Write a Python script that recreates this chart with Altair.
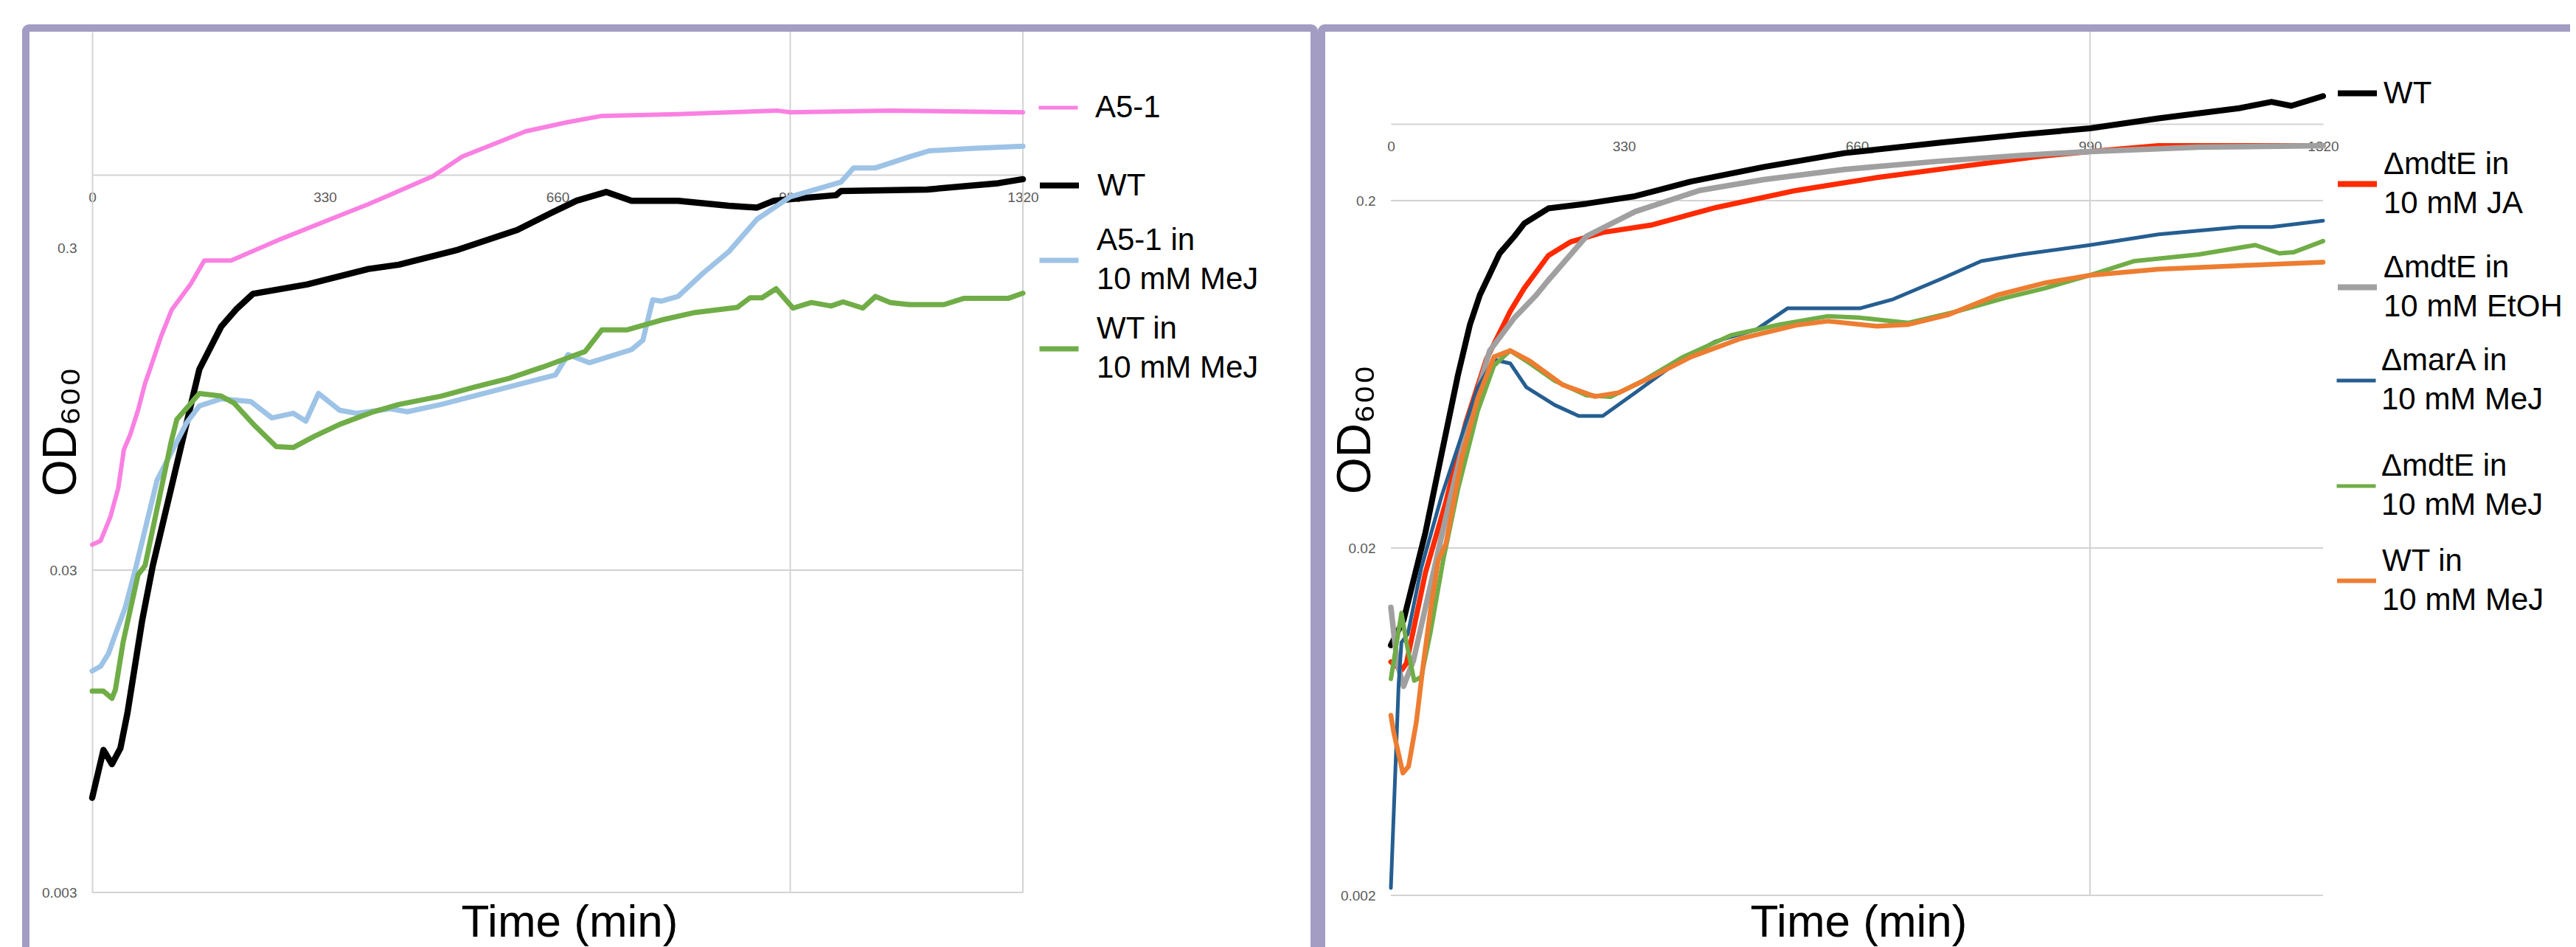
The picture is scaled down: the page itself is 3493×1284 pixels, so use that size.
import altair as alt
import pandas as pd

FONT = "Liberation Sans, Arial, Helvetica, DejaVu Sans, sans-serif"
FRAME = "#A39DC4"
GRID = "#D3D3D3"
TICK = "#5A5A5A"

# ---------------- left panel data ----------------
L_names = ["A5-1", "WT", "A5-1 in|10 mM MeJ", "WT in|10 mM MeJ"]
L_colors = ["#FA80E2", "#000000", "#9DC3E6", "#70AD47"]
L_widths = [6, 8.5, 7, 7]
L_sym_widths = [5, 8, 7, 7]

L_A51_t = [0, 12, 26, 37, 45, 54, 65, 75, 82, 98, 113, 140, 159, 197, 267, 351, 392, 483, 525, 615, 675, 723, 831, 971, 990, 1131, 1320]
L_A51_v = [0.036, 0.037, 0.044, 0.054, 0.071, 0.079, 0.094, 0.114, 0.126, 0.16, 0.193, 0.232, 0.274, 0.274, 0.319, 0.378, 0.41, 0.50, 0.576, 0.69, 0.737, 0.77, 0.78, 0.80, 0.79, 0.80, 0.79]

L_WT_t = [0, 16, 28, 40, 50, 71, 86, 152, 183, 204, 228, 305, 392, 435, 519, 603, 651, 687, 729, 765, 831, 903, 943, 967, 990, 1055, 1062, 1184, 1285, 1320]
L_WT_v = [0.0059, 0.0083, 0.0075, 0.0084, 0.0108, 0.021, 0.031, 0.126, 0.171, 0.193, 0.216, 0.231, 0.258, 0.266, 0.296, 0.341, 0.385, 0.42, 0.447, 0.42, 0.42, 0.405, 0.40, 0.42, 0.425, 0.437, 0.45, 0.455, 0.476, 0.49]

L_A51MeJ_t = [0, 12, 23, 33, 47, 61, 92, 120, 134, 152, 183, 225, 255, 285, 303, 321, 351, 375, 423, 447, 495, 591, 657, 675, 705, 765, 781, 795, 807, 831, 867, 903, 943, 990, 1062, 1080, 1111, 1159, 1187, 1247, 1320]
L_A51MeJ_v = [0.0146, 0.0151, 0.0165, 0.019, 0.023, 0.030, 0.057, 0.075, 0.086, 0.097, 0.102, 0.100, 0.089, 0.092, 0.087, 0.106, 0.094, 0.092, 0.095, 0.093, 0.098, 0.111, 0.121, 0.140, 0.132, 0.145, 0.155, 0.207, 0.205, 0.212, 0.251, 0.292, 0.368, 0.432, 0.48, 0.531, 0.531, 0.575, 0.60, 0.61, 0.62]

L_WTMeJ_t = [0, 16, 28, 33, 44, 65, 75, 112, 120, 152, 183, 201, 231, 261, 285, 315, 351, 399, 435, 495, 543, 591, 639, 699, 723, 759, 807, 855, 915, 933, 950, 970, 994, 1020, 1048, 1065, 1093, 1111, 1132, 1159, 1208, 1236, 1299, 1320]
L_WTMeJ_v = [0.01264, 0.01264, 0.0120, 0.0128, 0.018, 0.029, 0.031, 0.075, 0.088, 0.106, 0.104, 0.099, 0.084, 0.0725, 0.072, 0.078, 0.085, 0.093, 0.098, 0.104, 0.111, 0.118, 0.128, 0.143, 0.167, 0.167, 0.179, 0.189, 0.196, 0.21, 0.21, 0.224, 0.195, 0.203, 0.198, 0.204, 0.195, 0.212, 0.203, 0.2, 0.2, 0.209, 0.209, 0.217]

L_ticks = [0.003, 0.03, 0.3]
L_hgrid = [0.03, 0.003]
L_vgrid = [990, 1320]
L_ydomain = [0.003, 1.405]

# ---------------- right panel data ----------------
R_names = ["WT", "\u0394mdtE in|10 mM JA", "\u0394mdtE in|10 mM EtOH", "\u0394marA in|10 mM MeJ", "\u0394mdtE in|10 mM MeJ", "WT in|10 mM MeJ"]
R_colors = ["#000000", "#FF2A00", "#A0A0A0", "#255E91", "#70AD47", "#ED7D31"]
R_widths = [8, 7, 7.5, 5, 6, 6.5]
R_sym_widths = [8, 8, 8, 5, 5, 6]

R_WT_t = [0, 18, 39, 49, 72, 95, 112, 126, 154, 175, 189, 223, 277, 346, 425, 528, 642, 779, 893, 990, 1087, 1201, 1247, 1275, 1320]
R_WT_v = [0.0105, 0.0124, 0.0184, 0.0222, 0.0375, 0.063, 0.088, 0.107, 0.141, 0.158, 0.172, 0.19, 0.196, 0.206, 0.227, 0.25, 0.274, 0.294, 0.31, 0.323, 0.345, 0.369, 0.385, 0.375, 0.40]

R_JA_t = [0, 15, 22, 49, 78, 106, 135, 169, 189, 223, 254, 300, 368, 460, 574, 688, 802, 916, 990, 1087, 1201, 1320]
R_JA_v = [0.0094, 0.0089, 0.0093, 0.017, 0.0272, 0.0458, 0.0697, 0.096, 0.112, 0.139, 0.152, 0.162, 0.170, 0.191, 0.214, 0.233, 0.25, 0.268, 0.277, 0.288, 0.288, 0.288]

R_EtOH_t = [0, 9, 18, 32, 64, 83, 112, 140, 175, 206, 223, 277, 346, 437, 528, 642, 779, 893, 990, 1144, 1320]
R_EtOH_v = [0.0135, 0.0093, 0.0080, 0.0095, 0.0184, 0.0272, 0.0476, 0.074, 0.092, 0.107, 0.118, 0.158, 0.186, 0.214, 0.23, 0.246, 0.26, 0.27, 0.277, 0.285, 0.288]

R_marA_t = [0, 11, 15, 24, 43, 72, 100, 123, 146, 169, 192, 232, 266, 300, 346, 403, 460, 517, 562, 597, 665, 711, 779, 836, 893, 990, 1087, 1201, 1247, 1320]
R_marA_v = [0.0021, 0.0081, 0.0107, 0.0113, 0.0175, 0.0283, 0.042, 0.058, 0.0697, 0.068, 0.058, 0.0516, 0.048, 0.048, 0.056, 0.068, 0.0787, 0.085, 0.098, 0.098, 0.098, 0.104, 0.119, 0.134, 0.14, 0.149, 0.16, 0.168, 0.168, 0.175]

R_mdtEMeJ_t = [0, 15, 22, 33, 43, 56, 74, 95, 123, 146, 169, 197, 232, 277, 311, 357, 414, 482, 551, 619, 665, 733, 802, 870, 927, 990, 1053, 1144, 1224, 1258, 1278, 1320]
R_mdtEMeJ_v = [0.0084, 0.0130, 0.0107, 0.0083, 0.0085, 0.0114, 0.0184, 0.0295, 0.0496, 0.067, 0.074, 0.068, 0.0606, 0.055, 0.0545, 0.0606, 0.071, 0.082, 0.088, 0.093, 0.092, 0.089, 0.096, 0.105, 0.112, 0.122, 0.134, 0.14, 0.149, 0.141, 0.142, 0.153]

R_WTMeJ_t = [0, 4, 17, 25, 36, 46, 56, 67, 78, 100, 123, 146, 169, 197, 243, 289, 323, 368, 425, 494, 574, 619, 688, 733, 790, 859, 927, 990, 1087, 1201, 1320]
R_WTMeJ_v = [0.0066, 0.0059, 0.0045, 0.0047, 0.0063, 0.0093, 0.0132, 0.0184, 0.0206, 0.036, 0.054, 0.071, 0.074, 0.069, 0.059, 0.0546, 0.056, 0.062, 0.071, 0.080, 0.0876, 0.090, 0.087, 0.088, 0.094, 0.107, 0.116, 0.122, 0.127, 0.13, 0.133]

R_ticks = [0.002, 0.02, 0.2]
R_hgrid = [0.2, 0.02, 0.002]
R_vgrid = [990]
R_ydomain = [0.002, 0.6128]

X_ticks = [0, 330, 660, 990, 1320]
X_max = 1320

# layout (pixels inside each framed view)
H = 1262
LEG_ANCHOR = 31  # distance from legendY to the entry's symbol centre

L_entry_y = [110, 214, 316, 436]
R_entry_y = [89, 212, 352, 480, 623, 751]


def panel(names, colors, widths, sym_widths, ts, vs, W, xr, ydom, yr, yticks, hgrid, vgrid,
          show_ydomain, xaxis_y, ytitle_x, ytitle_y, xtitle_x, legend_x, label_off, entry_y):
    xs = alt.Scale(domain=[0, X_max], range=xr, nice=False, zero=False)
    ys = alt.Scale(type="log", domain=ydom, range=yr, nice=False)
    xoff = -(H - xaxis_y)

    xa = alt.Axis(orient="bottom", offset=xoff, values=X_ticks, format="d",
                  grid=False, ticks=False, tickSize=0, domain=True,
                  domainColor=GRID, domainWidth=2, labelFont=FONT,
                  labelFontSize=19, labelColor=TICK, labelPadding=21,
                  labelFlush=False, labelOverlap=False,
                  title="Time (min)", titleFont=FONT, titleFontSize=62,
                  titleFontWeight="normal", titleColor="#000000",
                  titleX=xtitle_x, titleY=1231 - xaxis_y,
                  titleAlign="center", titleBaseline="alphabetic")
    ya = alt.Axis(orient="left", offset=-xr[0], values=yticks, format="~g",
                  grid=False, ticks=False, tickSize=0, domain=show_ydomain,
                  domainColor=GRID, domainWidth=2, labelFont=FONT,
                  labelFontSize=19, labelColor=TICK, labelPadding=21,
                  labelOverlap=False, labelFlush=False,
                  title="OD\u2086\u2080\u2080", titleFont=FONT, titleFontSize=64,
                  titleFontWeight="normal", titleColor="#000000",
                  titleAngle=270, titleX=ytitle_x - xr[0], titleY=ytitle_y,
                  titleAlign="center", titleBaseline="middle")

    hg = pd.DataFrame({"od": hgrid, "time": [0] * len(hgrid), "time_end": [X_max] * len(hgrid)})
    vg = pd.DataFrame({"time": vgrid, "od": [ydom[0]] * len(vgrid), "od_end": [ydom[1]] * len(vgrid)})

    layers = [
        alt.Chart(hg).mark_rule(color=GRID, strokeWidth=2).encode(
            x=alt.X("time:Q", scale=xs, axis=xa), x2="time_end:Q",
            y=alt.Y("od:Q", scale=ys, axis=ya)),
        alt.Chart(vg).mark_rule(color=GRID, strokeWidth=2).encode(
            x=alt.X("time:Q", scale=xs, axis=xa),
            y=alt.Y("od:Q", scale=ys, axis=ya), y2="od_end:Q"),
    ]

    for name, col, wd, sw, t, v, ey in zip(names, colors, widths, sym_widths, ts, vs, entry_y):
        two_line = "|" in name
        leg = alt.Legend(title=None, orient="none", legendX=legend_x, legendY=ey - LEG_ANCHOR,
                         symbolType="stroke", symbolSize=2809, symbolStrokeWidth=sw,
                         labelExpr="split(datum.label, '|')",
                         labelBaseline="line-bottom" if two_line else "middle",
                         labelFont=FONT, labelFontSize=42, labelColor="#000000", labelLimit=800,
                         labelOffset=label_off, padding=0)
        df = pd.DataFrame({"series": [name] * len(t), "time": t, "od": v})
        layers.append(
            alt.Chart(df).mark_line(strokeWidth=wd, strokeJoin="round", strokeCap="round").encode(
                x=alt.X("time:Q", scale=xs, axis=xa),
                y=alt.Y("od:Q", scale=ys, axis=ya),
                color=alt.Color("series:N", scale=alt.Scale(domain=[name], range=[col]), legend=leg),
            )
        )
    return alt.layer(*layers).resolve_scale(color="independent").properties(width=W, height=H)


left = panel(L_names, L_colors, L_widths, L_sym_widths,
             [L_A51_t, L_WT_t, L_A51MeJ_t, L_WTMeJ_t], [L_A51_v, L_WT_v, L_A51MeJ_v, L_WTMeJ_v],
             1747, [90, 1352], L_ydomain, [1172, 5], L_ticks, L_hgrid, L_vgrid, True,
             199, 48, 547, 737, 1371, 21, L_entry_y)
right = panel(R_names, R_colors, R_widths, R_sym_widths,
              [R_WT_t, R_JA_t, R_EtOH_t, R_marA_t, R_mdtEMeJ_t, R_WTMeJ_t],
              [R_WT_v, R_JA_v, R_EtOH_v, R_marA_v, R_mdtEMeJ_v, R_WTMeJ_v],
              1698, [94, 1358], R_ydomain, [1176, 5], R_ticks, R_hgrid, R_vgrid, False,
              130, 46, 544, 728, 1374, 5, R_entry_y)

chart = alt.hconcat(left, right, spacing=0).resolve_scale(
    color="independent", x="independent", y="independent"
).properties(
    padding={"left": 22, "top": 25, "right": -10, "bottom": 0},
    background="white",
).configure(
    view=alt.ViewConfig(stroke=FRAME, strokeWidth=10, cornerRadius=4),
    style={"guide-label": {"lineHeight": 53}},
)

chart.save("out.html", embed_options={"renderer": "svg", "actions": False})
